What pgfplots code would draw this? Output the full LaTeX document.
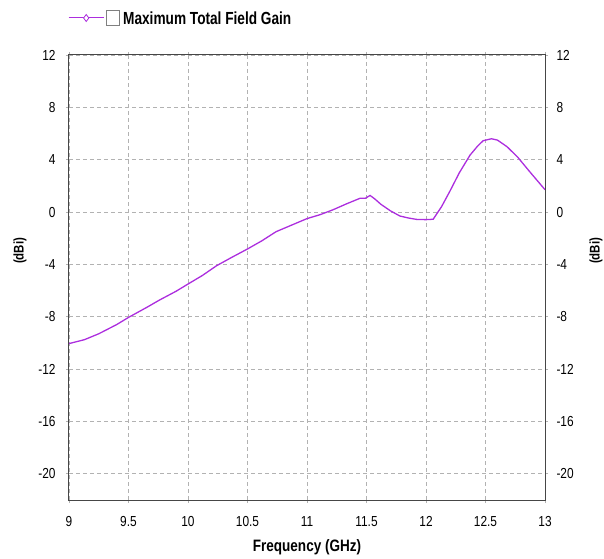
\documentclass[border=0pt]{standalone}
\usepackage{fontspec}
\setmainfont{Liberation Sans}[FakeStretch=0.82]
\newfontfamily\legfont{Liberation Sans}[FakeStretch=0.78]
\usepackage{pgfplots}
\pgfplotsset{compat=1.18}
\definecolor{curve}{RGB}{172,46,222}
\definecolor{gridc}{RGB}{178,178,178}
\definecolor{axc}{RGB}{70,70,70}
\pgfplotsset{common/.style={
  scale only axis, width=476bp, height=445bp,
  xmin=9, xmax=13, ymin=-22, ymax=12,
  xtick={9,9.5,...,13}, ytick={-20,-16,...,12},
  /pgf/number format/assume math mode=true,
  tick label style={font=\fontsize{14.5bp}{16bp}\selectfont, text=black},
  axis line style={axc, line width=1bp},
  tick style={gridc, line width=0.8bp},
  major tick length=3bp,
  tick align=outside,
}}
\begin{document}
\begin{tikzpicture}
\begin{axis}[common,
  grid=major,
  major grid style={gridc, line width=0.8bp, dash pattern=on 4bp off 3bp},
  xticklabel style={yshift=-10bp},
  yticklabel style={xshift=-7bp},
  xlabel={\textbf{Frequency (GHz)}},
  every axis x label/.style={at={([yshift=-47bp]axis description cs:0.5,0)}, anchor=center, font=\fontsize{16.5bp}{18bp}\selectfont},
  ylabel={\textbf{(dBi)}},
  every axis y label/.style={at={([xshift=-49bp]axis description cs:0,0.56)}, anchor=center, rotate=90, font=\fontsize{14bp}{16bp}\selectfont},
  legend style={at={([yshift=37bp,xshift=-1bp]axis description cs:0,1)}, anchor=west, draw=none, fill=none, inner sep=0pt,
    font=\fontsize{17.5bp}{19bp}\legfont\bfseries, cells={anchor=west}},
  legend image code/.code={
    \draw[curve, line width=1bp] (0bp,0bp) -- (35bp,0bp);
    \draw[curve, line width=0.8bp, fill=white] plot[mark=diamond*, mark size=3.5bp] coordinates {(17.5bp,0bp)};
  },
]
\addplot[curve, line width=1.3bp] coordinates {
(9.00,-10.05) (9.13,-9.75) (9.25,-9.3) (9.40,-8.6) (9.50,-8.05) (9.65,-7.3)
(9.765,-6.7) (9.90,-6.05) (10.00,-5.5) (10.12,-4.85) (10.24,-4.1) (10.37,-3.45)
(10.50,-2.82) (10.62,-2.2) (10.74,-1.5) (10.87,-1.0) (11.00,-0.5) (11.11,-0.2)
(11.22,0.18) (11.33,0.62) (11.445,1.05) (11.49,1.05) (11.53,1.27) (11.57,1.0)
(11.62,0.6) (11.70,0.1) (11.78,-0.3) (11.85,-0.45) (11.92,-0.56) (12.00,-0.58)
(12.06,-0.55) (12.13,0.4) (12.20,1.58) (12.28,3.0) (12.37,4.35) (12.43,5.0)
(12.48,5.45) (12.55,5.6) (12.60,5.5) (12.68,5.0) (12.77,4.2) (12.87,3.1) (13.00,1.71)
};
\addlegendentry{{\setlength\fboxsep{0pt}\setlength\fboxrule{1bp}\textcolor{gray}{\fbox{\rule{0pt}{14bp}\hspace{12bp}}}}\hspace{3bp}Maximum Total Field Gain}
\end{axis}
\begin{axis}[common,
  axis x line=none,
  axis y line*=right,
  yticklabel style={xshift=5bp},
  ylabel={\textbf{(dBi)}},
  every axis y label/.style={at={([xshift=51bp]axis description cs:1,0.56)}, anchor=center, rotate=90, font=\fontsize{14bp}{16bp}\selectfont},
]
\end{axis}
\pgfresetboundingbox
\path (current axis.south west) ++(-69bp,-59bp) rectangle ++(604bp,559bp);
\end{tikzpicture}
\end{document}
